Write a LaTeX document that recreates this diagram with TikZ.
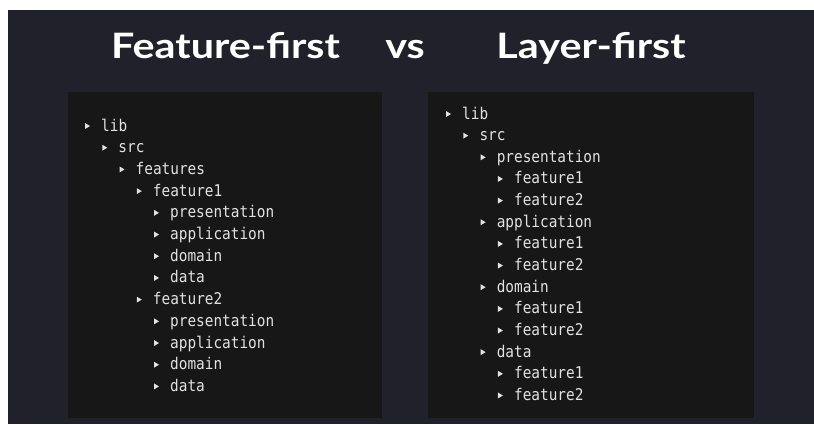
\documentclass[tikz,border=0pt]{standalone}
\usepackage{fontspec}
\usepackage{graphicx}
\setmainfont{Lato}
\newfontfamily\codefont{DejaVu Sans Mono}
\definecolor{bg}{HTML}{21212B}
\definecolor{panel}{HTML}{171717}
\definecolor{codetext}{HTML}{E2E2E2}
\newcommand\widetitle[1]{\scalebox{1.18}[1]{#1}}
\newcommand\tallcode[1]{\scalebox{1}[1.12]{#1}}
\tikzset{
  title/.style={text=white, font=\bfseries\fontsize{35}{40}\selectfont, inner sep=0pt, anchor=base},
  item/.style={text=codetext, font=\codefont\fontsize{14.4}{17}\selectfont, inner sep=0pt, anchor=base west},
  bullet/.style={fill=codetext}
}
\begin{document}
\begin{tikzpicture}[x=1pt,y=-1pt]
\useasboundingbox (0,0) rectangle (814,424);
\fill[white] (0,0) rectangle (814,424);
\fill[bg] (8,10) rectangle (814,424);
% the two code panels
\fill[panel] (68,92) rectangle (382,418);
\fill[panel] (428,92) rectangle (754,418);
% heading
\node[title] (t1) at (225.5,58) {\widetitle{Feature-first}};
\node[title] (t2) at (405,58) {\widetitle{vs}};
\node[title] (t3) at (591,58) {\widetitle{Layer-first}};
% feature-first tree
\foreach \lvl/\txt [count=\i from 0] in {0/lib,1/src,2/features,3/feature1,4/presentation,4/application,4/domain,4/data,3/feature2,4/presentation,4/application,4/domain,4/data}{
  \pgfmathsetmacro\xx{101+17.25*\lvl}
  \pgfmathsetmacro\yy{131+21.7*\i}
  \node[item] (L\i) at (\xx,\yy) {\tallcode{\txt}};
  \fill[bullet] (\xx-16,\yy-8) -- (\xx-11,\yy-5) -- (\xx-16,\yy-2) -- cycle;
}
% layer-first tree
\foreach \lvl/\txt [count=\i from 0] in {0/lib,1/src,2/presentation,3/feature1,3/feature2,2/application,3/feature1,3/feature2,2/domain,3/feature1,3/feature2,2/data,3/feature1,3/feature2}{
  \pgfmathsetmacro\xx{462+17.3*\lvl}
  \pgfmathsetmacro\yy{119+21.65*\i}
  \node[item] (R\i) at (\xx,\yy) {\tallcode{\txt}};
  \fill[bullet] (\xx-16,\yy-8) -- (\xx-11,\yy-5) -- (\xx-16,\yy-2) -- cycle;
}
\end{tikzpicture}
\end{document}
